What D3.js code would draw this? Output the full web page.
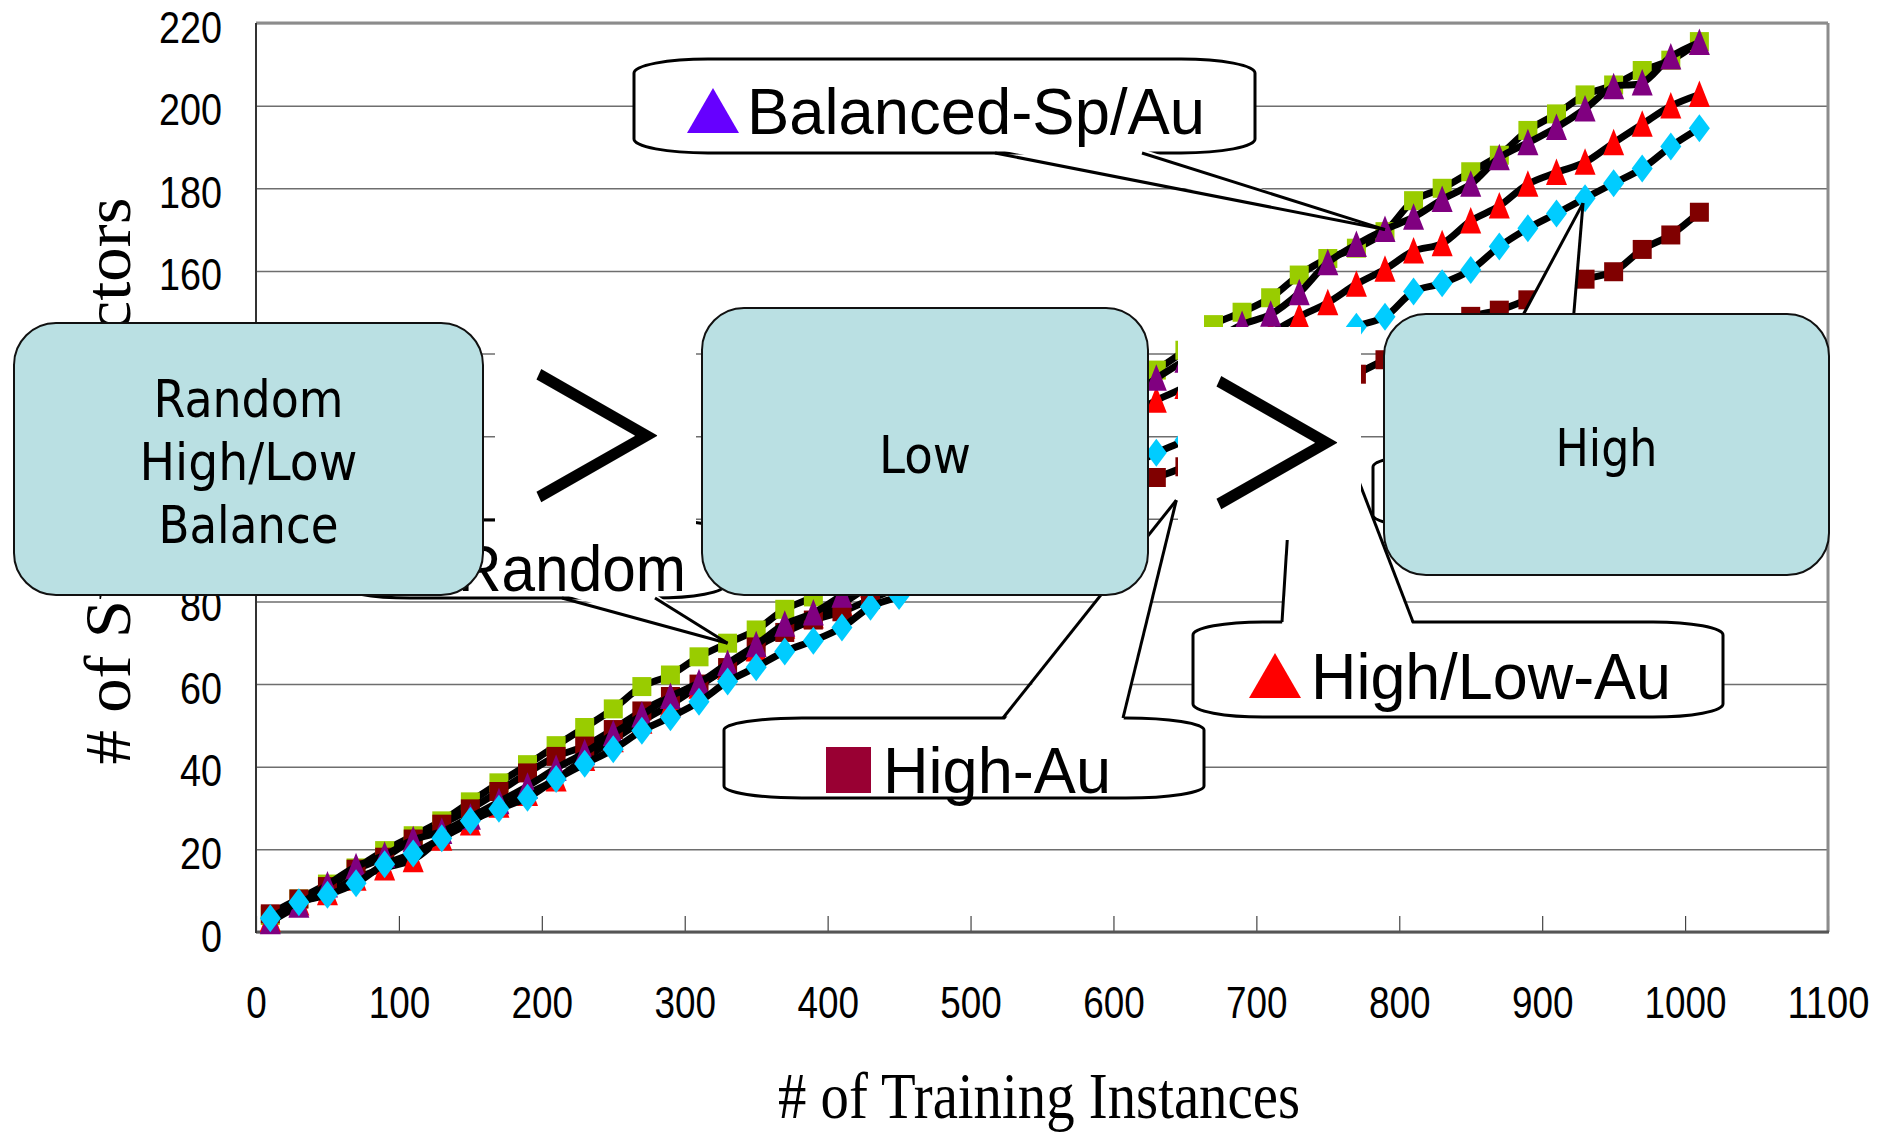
<!DOCTYPE html>
<html>
<head>
<meta charset="utf-8">
<script src="https://cdn.jsdelivr.net/npm/d3@7"></script>
<style>
  body { margin: 0; background: #fff; }
  svg { display: block; }
</style>
</head>
<body>
<svg id="chart" width="1883" height="1133"></svg>
<script>
// number of training instances (x) for every point
const instances = [10, 30, 50, 70, 90, 110, 130, 150, 170, 190, 210, 230, 250, 270, 290, 310, 330, 350, 370, 390,
  410, 430, 450, 470, 490, 510, 530, 550, 570, 590, 610, 630, 650, 670, 690, 710, 730, 750, 770, 790,
  810, 830, 850, 870, 890, 910, 930, 950, 970, 990, 1010];

// # of support vectors (hidden parts estimated)
const random = [4, 8, 11.6, 15.5, 19.7, 23.3, 26.9, 31.5, 36.1, 40.5, 45.1, 49.5, 54, 59.4, 62.2, 66.6, 69.9, 73.1, 78.1, 81.1,
  85.5, 90, 94.5, 99, 103.5, 108, 113, 117.5, 122, 127, 131.5, 136, 140.8, 147, 150, 153.5, 159, 163, 165.5, 169.5,
  177, 180, 184, 188, 194, 198, 202.6, 205, 208.5, 211, 215.5];
const highLowAu = [3, 7, 9.5, 13, 15.5, 17.5, 22.7, 26.4, 30.7, 33.5, 37, 42, 46.5, 51, 55, 59.5, 64, 68.5, 74, 76.5,
  79.5, 84, 88.5, 93, 97.5, 102, 106.5, 111, 115.5, 120, 124.5, 128.7, 132, 138, 142, 145, 148.9, 152.3, 156.8, 160.4,
  164.8, 166.6, 172.1, 175.7, 181, 183.8, 186.3, 191, 195.5, 199.9, 202.7];
const highAu = [4.4, 8, 11, 15.2, 18.1, 22.5, 26.1, 29.8, 34, 38.5, 42.5, 45, 49, 53.5, 57, 60, 64, 69, 72.5, 75.5,
  77.5, 80.5, 83.5, 86.5, 89.5, 92.5, 95.5, 98.5, 101.5, 104.5, 107.5, 110, 112.6, 116, 120, 124, 128, 131, 135, 138.5,
  142, 146, 149, 150.5, 153, 155, 158, 159.8, 165.2, 168.7, 174.2];
const balancedSpAu = [2.5, 6.5, 11.4, 15.8, 18.6, 22.3, 24.3, 27.8, 31.5, 35.3, 39.6, 43.4, 48, 52.5, 57, 60.3, 65, 69.5, 74.5, 77.2,
  81.5, 86, 91, 96, 101, 105.5, 110, 115, 119.5, 124.5, 129, 134, 138.4, 143, 147, 149.5, 154.7, 162, 166.4, 170,
  173, 177.3, 181, 187.4, 191, 194.7, 199.2, 204.6, 205.5, 211.8, 215.3];
const highSp = [3.3, 7.2, 9, 11.8, 16.4, 19, 22.7, 26.9, 29.8, 32.5, 37, 40.7, 44.2, 48.7, 52, 55.7, 60.6, 64.1, 67.9, 70.5,
  73.7, 78.7, 81.3, 85, 89, 93, 97, 101, 105, 109, 112.5, 116, 119, 123, 127, 132, 137, 142, 146.5, 148.9,
  155, 157, 160.2, 165.9, 170.3, 173.9, 177.6, 181.2, 184.8, 190.1, 194.5];

const yTicks = [0, 20, 40, 60, 80, 100, 120, 140, 160, 180, 200, 220];
const xTicks = [0, 100, 200, 300, 400, 500, 600, 700, 800, 900, 1000, 1100];

// drawing order = stacking order of the markers
const series = [
  {values: random, color: "#99cc00", shape: "square"},
  {values: highLowAu, color: "#ff0000", shape: "triangle"},
  {values: highAu, color: "#800000", shape: "square"},
  {values: balancedSpAu, color: "#800080", shape: "triangle"},
  {values: highSp, color: "#00ccff", shape: "diamond"}
];

const svg = d3.select("#chart");
const x = d3.scaleLinear().domain([0, 1100]).range([256, 1828]);
const y = d3.scaleLinear().domain([0, 220]).range([932, 23]);

// ---- axes & grid
const yAxis = svg.append("g")
  .attr("transform", "translate(256,0)")
  .call(d3.axisLeft(y).tickValues(yTicks).tickFormat(d3.format("d")).tickSize(-(1828 - 256)).tickPadding(34));
yAxis.select(".domain").remove();
yAxis.selectAll("line").attr("stroke", "#6e6e6e").attr("stroke-width", 1.5);
yAxis.selectAll("text")
  .attr("dy", 0).attr("y", 19)
  .attr("font-family", "Liberation Sans, Arial, sans-serif").attr("font-size", 45).attr("fill", "#000")
  .attr("textLength", d => String(d).length * 21).attr("lengthAdjust", "spacingAndGlyphs");

const xAxis = svg.append("g")
  .attr("transform", "translate(0,932)")
  .call(d3.axisBottom(x).tickValues(xTicks).tickFormat(d3.format("d")).tickSize(-16));
xAxis.select(".domain").remove();
xAxis.selectAll("line").attr("stroke", "#444").attr("stroke-width", 1.2);
xAxis.selectAll("text")
  .attr("dy", 0).attr("y", 86)
  .attr("font-family", "Liberation Sans, Arial, sans-serif").attr("font-size", 45).attr("fill", "#000")
  .attr("textLength", d => String(d).length * 20.5).attr("lengthAdjust", "spacingAndGlyphs");

// plot frame
svg.append("line").attr("x1", 256).attr("x2", 1828).attr("y1", 23).attr("y2", 23)
  .attr("stroke", "#8c8c8c").attr("stroke-width", 3);
svg.append("line").attr("x1", 1828).attr("x2", 1828).attr("y1", 23).attr("y2", 932)
  .attr("stroke", "#8c8c8c").attr("stroke-width", 3);
svg.append("line").attr("x1", 256).attr("x2", 1829).attr("y1", 932).attr("y2", 932)
  .attr("stroke", "#555").attr("stroke-width", 3);
svg.append("line").attr("x1", 256).attr("x2", 256).attr("y1", 23).attr("y2", 933)
  .attr("stroke", "#333").attr("stroke-width", 2);

// axis titles
svg.append("text")
  .attr("transform", "translate(130,481) rotate(-90)")
  .attr("text-anchor", "middle")
  .attr("font-family", "Liberation Serif, Times New Roman, serif").attr("font-size", 65)
  .attr("textLength", 567).attr("lengthAdjust", "spacingAndGlyphs")
  .text("# of Support Vectors");
svg.append("text")
  .attr("x", 1039).attr("y", 1118)
  .attr("text-anchor", "middle")
  .attr("font-family", "Liberation Serif, Times New Roman, serif").attr("font-size", 65)
  .attr("textLength", 522).attr("lengthAdjust", "spacingAndGlyphs")
  .text("# of Training Instances");

// ---- series
const shapes = {
  square: "M-9.5,-9.5H9.5V9.5H-9.5Z",
  triangle: "M0,-14L10.5,12.5L-10.5,12.5Z",
  diamond: "M0,-14L10.5,0L0,14L-10.5,0Z"
};
const line = d3.line()
  .x((d, i) => x(instances[i]))
  .y(d => y(d))
  .curve(d3.curveCatmullRom);

series.forEach(s => {
  svg.append("path")
    .attr("d", line(s.values))
    .attr("fill", "none").attr("stroke", "#000").attr("stroke-width", 7)
    .attr("stroke-linejoin", "round");
  svg.append("g").selectAll("path")
    .data(s.values).enter()
    .append("path")
    .attr("d", shapes[s.shape])
    .attr("transform", (d, i) => `translate(${x(instances[i])},${y(d)})`)
    .attr("fill", s.color);
});

// ---- callouts (body in px, pointer tip in data units)
function roundedBody(b) {
  const {x0, y0, x1, y1, rx, ry} = b;
  return `M${x0 + rx},${y0}H${x1 - rx}A${rx},${ry} 0 0 1 ${x1},${y0 + ry}V${y1 - ry}` +
    `A${rx},${ry} 0 0 1 ${x1 - rx},${y1}H${x0 + rx}A${rx},${ry} 0 0 1 ${x0},${y1 - ry}` +
    `V${y0 + ry}A${rx},${ry} 0 0 1 ${x0 + rx},${y0}Z`;
}

function callout(c) {
  const g = svg.append("g");
  const tip = [x(c.tip[0]), y(c.tip[1])];
  const inward = c.side === "bottom" ? -4 : 4;
  g.append("path").attr("d", roundedBody(c.body))
    .attr("fill", "#fff").attr("stroke", "#000").attr("stroke-width", 3);
  g.append("path")
    .attr("d", `M${c.base[0][0]},${c.base[0][1] + inward}L${tip[0]},${tip[1]}L${c.base[1][0]},${c.base[1][1] + inward}Z`)
    .attr("fill", "#fff");
  c.base.forEach(b => {
    g.append("line").attr("x1", b[0]).attr("y1", b[1]).attr("x2", tip[0]).attr("y2", tip[1])
      .attr("stroke", "#000").attr("stroke-width", 3);
  });
  if (c.key) {
    g.append("path").attr("d", c.key.d).attr("fill", c.key.color);
  }
  if (c.label) {
    g.append("text")
      .attr("x", c.label.x).attr("y", c.label.y)
      .attr("font-family", "Liberation Sans, Arial, sans-serif").attr("font-size", 64)
      .attr("textLength", c.label.len).attr("lengthAdjust", "spacingAndGlyphs")
      .text(c.label.text);
  }
}

callout({
  body: {x0: 634, y0: 59, x1: 1255, y1: 153, rx: 74, ry: 14}, side: "bottom",
  base: [[995, 153], [1142, 153]], tip: [790, 170],
  key: {d: "M687,133L739,133L713,88Z", color: "#6600ff"},
  label: {x: 747, y: 134, text: "Balanced-Sp/Au", len: 458}
});
callout({
  body: {x0: 340, y0: 520, x1: 725, y1: 598, rx: 70, ry: 13}, side: "bottom",
  base: [[562, 598], [655, 598]], tip: [330, 69.9],
  key: {d: "M400,548H446V594H400Z", color: "#99cc00"},
  label: {x: 458, y: 591, text: "Random", len: 228}
});
callout({
  body: {x0: 724, y0: 718, x1: 1204, y1: 798, rx: 78, ry: 12}, side: "top",
  base: [[1003, 718], [1123, 718]], tip: [644, 104.5],
  key: {d: "M826,747H871V793H826Z", color: "#990033"},
  label: {x: 883, y: 793, text: "High-Au", len: 228}
});
callout({
  body: {x0: 1193, y0: 622, x1: 1723, y1: 717, rx: 70, ry: 13}, side: "top",
  base: [[1282, 622], [1413, 622]], tip: [731, 145.7],
  key: {d: "M1249,698L1301,698L1275,653Z", color: "#ff0000"},
  label: {x: 1311, y: 699, text: "High/Low-Au", len: 360}
});
callout({
  body: {x0: 1373, y0: 455, x1: 1800, y1: 527, rx: 60, ry: 12}, side: "top",
  base: [[1448, 455], [1562, 455]], tip: [928.6, 176.4]
});

// ---- ">" signs on white patches
[[495, 318, 201, 213, 596, 439], [1178, 327, 183, 213, 1276, 446]].forEach(p => {
  svg.append("rect").attr("x", p[0]).attr("y", p[1]).attr("width", p[2]).attr("height", p[3]).attr("fill", "#fff");
  svg.append("text")
    .attr("transform", `translate(${p[4]},${p[5]}) scale(0.9,1)`)
    .attr("x", 0).attr("y", 61)
    .attr("text-anchor", "middle")
    .attr("font-family", "Noto Sans CJK JP, sans-serif").attr("font-size", 172)
    .text("＞");
});

// ---- ranking boxes
const boxes = [
  {x0: 14, y0: 323, x1: 483, y1: 595, lines: [["Random", 417, 190], ["High/Low", 480, 218], ["Balance", 543, 180]]},
  {x0: 702, y0: 308, x1: 1148, y1: 595, lines: [["Low", 473, 92]]},
  {x0: 1384, y0: 314, x1: 1829, y1: 575, lines: [["High", 466, 102]]}
];
boxes.forEach(b => {
  svg.append("rect")
    .attr("x", b.x0).attr("y", b.y0).attr("width", b.x1 - b.x0).attr("height", b.y1 - b.y0)
    .attr("rx", 42).attr("ry", 42)
    .attr("fill", "#bae0e3").attr("stroke", "#111").attr("stroke-width", 2);
  b.lines.forEach(l => {
    svg.append("text")
      .attr("x", (b.x0 + b.x1) / 2).attr("y", l[1])
      .attr("text-anchor", "middle")
      .attr("font-family", "DejaVu Sans, sans-serif").attr("font-size", 52)
      .attr("textLength", l[2]).attr("lengthAdjust", "spacingAndGlyphs")
      .text(l[0]);
  });
});
</script>
</body>
</html>
